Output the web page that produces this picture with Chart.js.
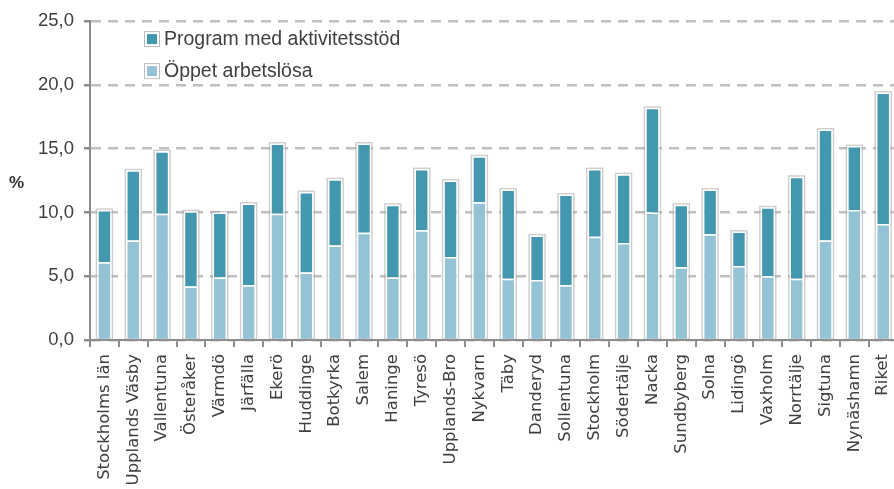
<!DOCTYPE html>
<html>
<head>
<meta charset="utf-8">
<script src="https://cdn.jsdelivr.net/npm/chart.js@4"></script>
<style>
html,body{margin:0;padding:0;background:#fff;overflow:hidden;width:894px;height:489px;}
#wrap{width:910px;height:489px;position:relative;}
</style>
</head>
<body>
<div id="wrap"><canvas id="c" width="910" height="489"></canvas></div>
<script>
const categories = ["Stockholms län","Upplands Väsby","Vallentuna","Österåker","Värmdö","Järfälla","Ekerö","Huddinge","Botkyrka","Salem","Haninge","Tyresö","Upplands-Bro","Nykvarn","Täby","Danderyd","Sollentuna","Stockholm","Södertälje","Nacka","Sundbyberg","Solna","Lidingö","Vaxholm","Norrtälje","Sigtuna","Nynäshamn","Riket"];
const oppetArbetslosa = [6.1,7.8,9.9,4.2,4.9,4.3,9.9,5.3,7.4,8.4,4.9,8.6,6.5,10.8,4.8,4.7,4.3,8.1,7.6,10.0,5.7,8.3,5.8,5.0,4.8,7.8,10.2,9.1];
const totalt = [10.2,13.3,14.8,10.1,10.0,10.7,15.4,11.6,12.6,15.4,10.6,13.4,12.5,14.4,11.8,8.2,11.4,13.4,13.0,18.2,10.6,11.8,8.5,10.4,12.8,16.5,15.2,19.4];
const programAktivitetsstod = totalt.map((t,i)=>Math.round((t-oppetArbetslosa[i])*10)/10);
const yTicks = [0,5,10,15,20,25];
const seriesNames = ["Öppet arbetslösa","Program med aktivitetsstöd"];
const colLight = "#93C3D5";
const colDark = "#4398AF";

const outlinePlugin = {
  id:'outline',
  beforeDatasetsDraw(chart){
    const ctx = chart.ctx;
    const m0 = chart.getDatasetMeta(0).data;
    const m1 = chart.getDatasetMeta(1).data;
    ctx.save();
    ctx.strokeStyle = "rgba(160,160,160,0.5)";
    ctx.lineWidth = 1.5;
    for(let i=0;i<m0.length;i++){
      const b0=m0[i].getProps(['x','y','base','width'],true);
      const b1=m1[i].getProps(['x','y','base','width'],true);
      const l=b0.x-b0.width/2-0.75, r=b0.x+b0.width/2+0.75;
      const top=Math.min(b1.y,b0.y)-0.75, bot=b0.base;
      ctx.strokeRect(l,top,r-l,bot-top);
    }
    ctx.restore();
  }
};
const extrasPlugin = {
  id:'extras',
  afterDraw(chart){
    const ctx=chart.ctx, ca=chart.chartArea;
    ctx.save();
    ctx.fillStyle="#333";
    ctx.font="bold 17px 'Liberation Sans', Arial, sans-serif";
    ctx.textAlign="left"; ctx.textBaseline="middle";
    ctx.fillText("%", 9, (ca.top+ca.bottom)/2 + 3);
    const items=[{t:seriesNames[1],c:colDark},{t:seriesNames[0],c:colLight}];
    ctx.font="19.5px 'Liberation Sans', Arial, sans-serif";
    items.forEach((it,k)=>{
      const x=ca.left+56, y=ca.top+18+k*32;
      ctx.fillStyle="#fff"; ctx.fillRect(x-1,y-7,14,14);
      ctx.strokeStyle="rgba(160,160,160,0.7)"; ctx.lineWidth=1; ctx.strokeRect(x-1.5,y-7.5,15,15);
      ctx.fillStyle=it.c; ctx.fillRect(x+1,y-5,10,10);
      ctx.fillStyle="#404040"; ctx.textBaseline="middle";
      ctx.fillText(it.t, x+18, y+1);
    });
    ctx.restore();
  }
};

new Chart(document.getElementById('c'),{
  type:'bar',
  data:{
    labels:categories,
    datasets:[
      {label:seriesNames[0],data:oppetArbetslosa,backgroundColor:colLight,borderColor:"#fff",borderWidth:1.5,barPercentage:0.5,categoryPercentage:1},
      {label:seriesNames[1],data:programAktivitetsstod,backgroundColor:colDark,borderColor:"#fff",borderWidth:1.5,barPercentage:0.5,categoryPercentage:1}
    ]
  },
  options:{
    responsive:false,
    animation:false,
    layout:{padding:{top:13,right:0,left:0,bottom:0}},
    plugins:{legend:{display:false},tooltip:{enabled:false}},
    scales:{
      x:{
        stacked:true,
        afterFit(s){s.height=149;},
        grid:{display:true,drawOnChartArea:false,offset:true,color:"#8c8c8c",lineWidth:2,tickLength:7},
        border:{display:true,color:"#8c8c8c",width:2},
        ticks:{autoSkip:false,maxRotation:90,minRotation:90,padding:7,color:"#404040",font:{family:"'DejaVu Sans', sans-serif",size:16.5}}
      },
      y:{
        stacked:true,
        min:0,max:25,
        afterFit(s){s.width=90;},
        afterBuildTicks(s){s.ticks=yTicks.map(v=>({value:v}));},
        grid:{color:"#c0c0c0",lineWidth:2.5,tickLength:6,tickColor:"#8c8c8c",drawTicks:true},
        border:{display:true,color:"#8c8c8c",width:2,dash:[10,7]},
        ticks:{padding:10,color:"#404040",font:{family:"'Liberation Sans', Arial, sans-serif",size:18.5},
          callback:v=>v.toFixed(1).replace('.',',')}
      }
    }
  },
  plugins:[outlinePlugin,extrasPlugin]
});
</script>
</body>
</html>
